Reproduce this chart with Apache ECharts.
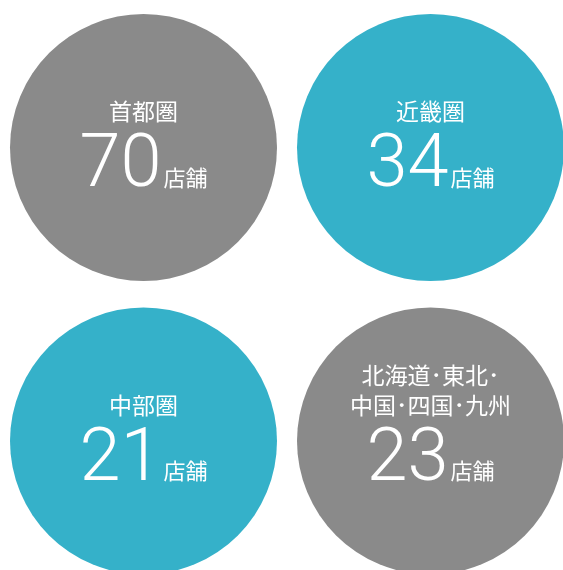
<!DOCTYPE html>
<html>
<head>
<meta charset="utf-8">
<script src="https://cdn.jsdelivr.net/npm/echarts@6/dist/echarts.min.js"></script>
<style>
html,body{margin:0;padding:0;background:#fff;}
#chart{width:563px;height:570px;}
</style>
</head>
<body>
<div id="chart"></div>
<script>
// Data
var regions = ['首都圏', '近畿圏', '中部圏', '北海道･東北･\n中国･四国･九州'];
var storeCounts = [70, 34, 21, 23];
var unitLabel = '店舗';
var colIndex = [0, 1, 0, 1];
var rowIndex = [0, 0, 1, 1];

var palette = ['#8a8a8a', '#35b1c9', '#35b1c9', '#8a8a8a'];

var chart = echarts.init(document.getElementById('chart'), null, {renderer: 'canvas'});

var seriesData = regions.map(function (r, i) {
  return {
    value: [colIndex[i], rowIndex[i]],
    name: r,
    count: storeCounts[i],
    itemStyle: {color: palette[i], opacity: 1}
  };
});

var option = {
  animation: false,
  grid: {left: 0, right: 0, top: 0, bottom: 0},
  xAxis: {type: 'value', min: -0.5, max: -0.5 + 563 / 287, show: false},
  yAxis: {type: 'value', inverse: true, min: -147.5 / 293.5, max: -147.5 / 293.5 + 570 / 293.5, show: false},
  series: [{
    type: 'scatter',
    symbol: 'circle',
    symbolSize: 267,
    data: seriesData,
    itemStyle: {opacity: 1},
    label: {
      show: true,
      position: 'inside',
      verticalAlign: 'bottom',
      align: 'center',
      offset: [0, 51],
      formatter: function (p) {
        return '{t|' + p.data.name.split('\n').join('}\n{t|') + '}\n{s| }\n{n|' + p.data.count + '}{u|' + unitLabel + '}';
      },
      rich: {
        t: {fontSize: 23, lineHeight: 30, color: '#fff', fontFamily: '"Noto Sans CJK JP", sans-serif', align: 'center'},
        s: {fontSize: 1, lineHeight: 10, color: '#fff'},
        n: {fontSize: 74, lineHeight: 62, color: '#fff', fontFamily: 'Roboto, sans-serif', fontWeight: 300},
        u: {fontSize: 22, lineHeight: 62, color: '#fff', fontFamily: '"Noto Sans CJK JP", sans-serif', verticalAlign: 'bottom', padding: [0, 0, 10, 2]}
      }
    },
    emphasis: {disabled: true}
  }]
};
chart.setOption(option);
</script>
</body>
</html>
